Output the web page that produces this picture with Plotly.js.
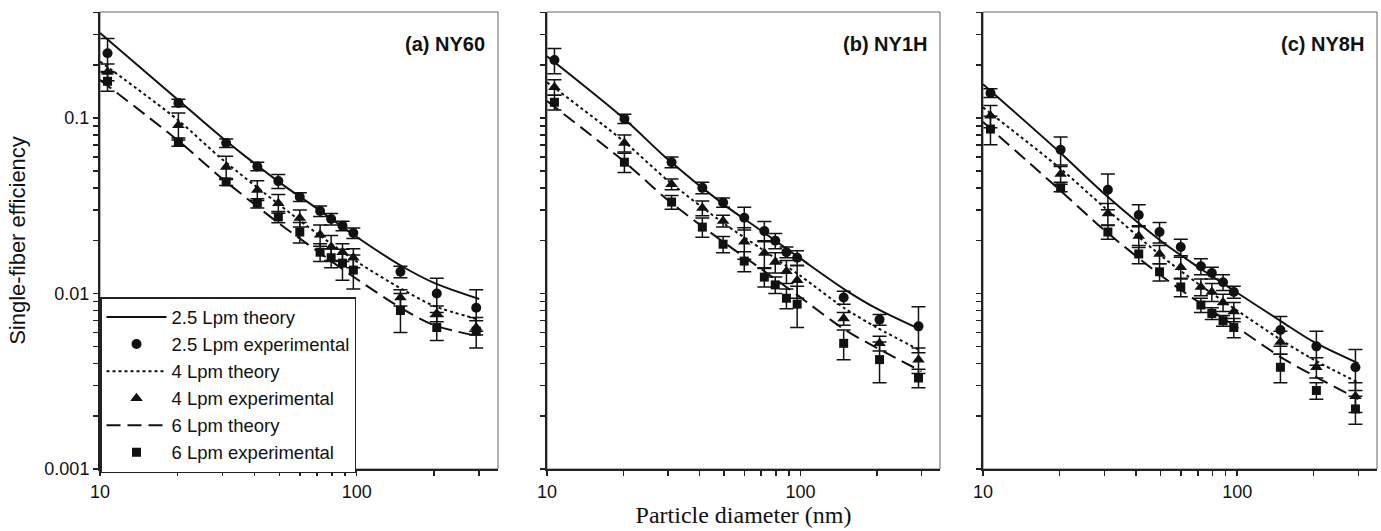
<!DOCTYPE html>
<html><head><meta charset="utf-8">
<script src="https://cdn.plot.ly/plotly-3.0.1.min.js"></script>
<style>html,body{margin:0;padding:0;background:#fff}#chart{width:1381px;height:531px}</style>
</head><body><div id="chart"></div>
<script>
// ---- data ----
const panelLabels = ['(a) NY60', '(b) NY1H', '(c) NY8H'];
const seriesNames = ['2.5 Lpm theory', '2.5 Lpm experimental', '4 Lpm theory', '4 Lpm experimental', '6 Lpm theory', '6 Lpm experimental'];
const xTitle = 'Particle diameter (nm)';
const yTitle = 'Single-fiber efficiency';

const dpExp = [10.7, 20.2, 31, 41, 49.5, 60, 72, 79.5, 88, 97, 148, 205, 292];
const dpTheory = [10, 20, 30, 50, 70, 100, 150, 200, 300];

// panel (a) NY60
const thA25 = [0.305, 0.128, 0.077, 0.043, 0.0305, 0.021, 0.0143, 0.0115, 0.0093];
const thA4  = [0.21, 0.098, 0.058, 0.032, 0.022, 0.0152, 0.0106, 0.0085, 0.0071];
const thA6  = [0.165, 0.075, 0.045, 0.025, 0.0175, 0.0121, 0.0082, 0.0066, 0.0057];
const exA25 = [0.234, 0.122, 0.072, 0.053, 0.0437, 0.0355, 0.0295, 0.0266, 0.0243, 0.0221, 0.0133, 0.0100, 0.0083];
const erA25 = [0.05, 0.006, 0.004, 0.003, 0.004, 0.002, 0.002, 0.002, 0.0015, 0.0015, 0.001, 0.0022, 0.0022];
const exA4  = [0.183, 0.091, 0.0526, 0.0389, 0.0327, 0.0269, 0.0216, 0.0184, 0.0172, 0.016, 0.0095, 0.0077, 0.0064];
const erA4  = [0.02, 0.016, 0.008, 0.005, 0.004, 0.003, 0.003, 0.003, 0.002, 0.002, 0.001, 0.0008, 0.0006];
const exA6  = [0.162, 0.073, 0.0433, 0.0327, 0.0273, 0.0224, 0.0172, 0.016, 0.0149, 0.0136, 0.008, 0.0064, 0.0061];
const erA6  = [0.02, 0.004, 0.002, 0.002, 0.002, 0.003, 0.002, 0.002, 0.003, 0.003, 0.002, 0.001, 0.0012];

// panel (b) NY1H
const thB25 = [0.225, 0.1, 0.058, 0.032, 0.0228, 0.0158, 0.0105, 0.0082, 0.0062];
const thB4  = [0.16, 0.074, 0.044, 0.025, 0.018, 0.0126, 0.0082, 0.0064, 0.0047];
const thB6  = [0.125, 0.057, 0.034, 0.0195, 0.0138, 0.0095, 0.0062, 0.0049, 0.0036];
const exB25 = [0.214, 0.099, 0.056, 0.040, 0.033, 0.027, 0.0227, 0.0200, 0.0172, 0.016, 0.0095, 0.0071, 0.0065];
const erB25 = [0.035, 0.006, 0.004, 0.003, 0.002, 0.004, 0.003, 0.002, 0.0012, 0.0015, 0.0008, 0.0005, 0.0019];
const exB4  = [0.15, 0.072, 0.042, 0.0307, 0.0259, 0.0197, 0.017, 0.0151, 0.0134, 0.0119, 0.0072, 0.0052, 0.0042];
const erB4  = [0.015, 0.008, 0.003, 0.003, 0.002, 0.004, 0.003, 0.002, 0.002, 0.0025, 0.0006, 0.0005, 0.0007];
const exB6  = [0.123, 0.056, 0.0332, 0.0239, 0.0191, 0.0153, 0.0124, 0.0112, 0.0094, 0.0087, 0.0052, 0.0042, 0.0033];
const erB6  = [0.012, 0.007, 0.003, 0.003, 0.002, 0.002, 0.0015, 0.0012, 0.0012, 0.0023, 0.001, 0.0011, 0.0004];

// panel (c) NY8H
const thC25 = [0.156, 0.064, 0.037, 0.020, 0.0142, 0.0101, 0.0069, 0.0053, 0.0040];
const thC4  = [0.115, 0.052, 0.031, 0.0165, 0.0114, 0.008, 0.0054, 0.0042, 0.0031];
const thC6  = [0.095, 0.039, 0.023, 0.0127, 0.009, 0.0064, 0.0043, 0.0034, 0.0025];
const exC25 = [0.139, 0.066, 0.039, 0.028, 0.0224, 0.0184, 0.0143, 0.0131, 0.0116, 0.0102, 0.0062, 0.0050, 0.0038];
const erC25 = [0.008, 0.012, 0.009, 0.004, 0.003, 0.002, 0.0015, 0.001, 0.0012, 0.0008, 0.0012, 0.0011, 0.001];
const exC4  = [0.103, 0.048, 0.0286, 0.0213, 0.0168, 0.0141, 0.0109, 0.0102, 0.0089, 0.0079, 0.0053, 0.0038, 0.0026];
const erC4  = [0.015, 0.005, 0.004, 0.003, 0.002, 0.002, 0.0012, 0.0012, 0.001, 0.001, 0.0008, 0.0005, 0.0005];
const exC6  = [0.0865, 0.040, 0.0224, 0.0168, 0.0133, 0.0109, 0.0086, 0.0077, 0.0070, 0.0064, 0.0038, 0.0028, 0.0022];
const erC6  = [0.016, 0.002, 0.002, 0.002, 0.0015, 0.0013, 0.0008, 0.0006, 0.0005, 0.0008, 0.0007, 0.0003, 0.0004];

const xTickVals = [10, 20, 30, 40, 50, 60, 70, 80, 90, 100, 200, 300];
const xTickText = ['10', '', '', '', '', '', '', '', '', '100', '', ''];
const yTickVals = [0.001, 0.002, 0.003, 0.004, 0.005, 0.006, 0.007, 0.008, 0.009,
                   0.01, 0.02, 0.03, 0.04, 0.05, 0.06, 0.07, 0.08, 0.09, 0.1, 0.2, 0.3, 0.4];
const yTickText = ['0.001', '', '', '', '', '', '', '', '', '0.01', '', '', '', '', '', '', '', '', '0.1', '', '', ''];

// ---- build ----
const panels = [
  {th: [thA25, thA4, thA6], ex: [exA25, exA4, exA6], er: [erA25, erA4, erA6]},
  {th: [thB25, thB4, thB6], ex: [exB25, exB4, exB6], er: [erB25, erB4, erB6]},
  {th: [thC25, thC4, thC6], ex: [exC25, exC4, exC6], er: [erC25, erC4, erC6]}
];
const dashes = ['solid', 'dot', '14px,7px'];
const symbols = ['circle', 'triangle-up', 'square'];
const msizes = [10, 11, 9];
const ink = '#111';
const traces = [];
panels.forEach((p, i) => {
  const xa = i === 0 ? 'x' : 'x' + (i + 1);
  const ya = i === 0 ? 'y' : 'y' + (i + 1);
  for (let k = 0; k < 3; k++) {
    traces.push({
      type: 'scatter', mode: 'lines', x: dpTheory, y: p.th[k], xaxis: xa, yaxis: ya,
      name: seriesNames[2 * k], legendgroup: 'g' + (2 * k), showlegend: i === 0,
      line: {color: ink, width: 2, dash: dashes[k], shape: 'spline', smoothing: 0.8}, hoverinfo: 'skip'
    });
    traces.push({
      type: 'scatter', mode: 'markers', x: dpExp, y: p.ex[k], xaxis: xa, yaxis: ya,
      name: seriesNames[2 * k + 1], legendgroup: 'g' + (2 * k + 1), showlegend: i === 0,
      marker: {color: ink, symbol: symbols[k], size: msizes[k]},
      error_y: {type: 'data', array: p.er[k], visible: true, color: ink, thickness: 1.5, width: 7}
    });
  }
});

const W = 1381, H = 531;
const xDomains = [[100 / W, 498 / W], [547 / W, 940 / W], [983 / W, 1377 / W]];
const yDomain = [1 - 469 / H, 1 - 12 / H];
const fontSans = 'Liberation Sans, Arial, sans-serif';

const layout = {
  width: W, height: H,
  margin: {l: 0, r: 0, t: 0, b: 0},
  paper_bgcolor: '#fff', plot_bgcolor: '#fff',
  font: {family: fontSans, color: ink},
  showlegend: true,
  legend: {
    x: 100 / W, y: 1 - 473 / H, xanchor: 'left', yanchor: 'bottom',
    bgcolor: '#fff', bordercolor: '#222', borderwidth: 1.5,
    font: {family: fontSans, size: 18.5, color: ink},
    itemwidth: 60, traceorder: 'grouped', tracegroupgap: 0
  },
  shapes: [],
  annotations: []
};

for (let i = 0; i < 3; i++) {
  const sx = i === 0 ? '' : String(i + 1);
  layout['xaxis' + sx] = {
    type: 'log', domain: xDomains[i], range: [1, Math.log10(355)], anchor: 'y' + sx,
    tickmode: 'array', tickvals: xTickVals, ticktext: xTickText,
    ticks: 'outside', ticklen: 5, tickwidth: 1.5, tickcolor: '#222',
    showline: true, linewidth: 2, linecolor: '#222', showgrid: false, zeroline: false,
    tickfont: {family: fontSans, size: 18, color: ink},
    title: i === 1 ? {text: xTitle, font: {family: 'Liberation Serif, Times New Roman, serif', size: 24, color: ink}, standoff: 2} : {text: ''}
  };
  layout['yaxis' + sx] = {
    type: 'log', domain: yDomain, range: [-3, Math.log10(0.402)], anchor: 'x' + sx,
    tickmode: 'array', tickvals: yTickVals, ticktext: yTickText,
    ticks: 'outside', ticklen: 5, tickwidth: 1.5, tickcolor: '#222',
    showline: true, linewidth: 2, linecolor: '#222', showgrid: false, zeroline: false,
    showticklabels: i === 0,
    tickfont: {family: fontSans, size: 18, color: ink},
    title: i === 0 ? {text: yTitle, font: {family: fontSans, size: 22, color: ink}, standoff: 13} : {text: ''}
  };
  layout.shapes.push({
    type: 'rect', xref: 'x' + sx + ' domain', yref: 'y' + sx + ' domain',
    x0: 0, x1: 1, y0: 0, y1: 1, line: {color: '#666', width: 1}, layer: 'below'
  });
  layout.annotations.push({
    text: '<b>' + panelLabels[i] + '</b>', xref: 'x' + sx + ' domain', yref: 'y' + sx + ' domain',
    x: 0.972, y: 0.93, xanchor: 'right', yanchor: 'middle', showarrow: false,
    font: {family: fontSans, size: 20, color: ink}
  });
}

Plotly.newPlot('chart', traces, layout, {staticPlot: true, displayModeBar: false});
</script>
</body></html>
